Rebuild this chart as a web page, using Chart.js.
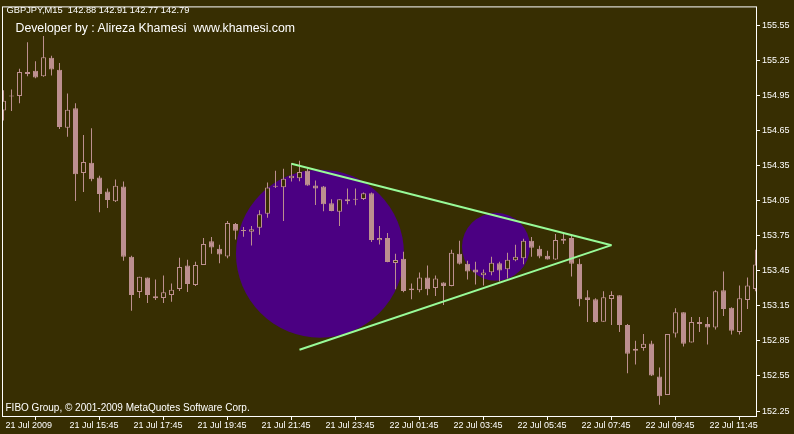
<!DOCTYPE html>
<html>
<head>
<meta charset="utf-8">
<script src="https://cdn.jsdelivr.net/npm/chart.js@4"></script>
<style>
  html, body { margin: 0; padding: 0; background: #372E02; overflow: hidden; }
  #wrap { position: relative; width: 794px; height: 434px; }
  canvas { position: absolute; left: 0; top: 0; }
  .txt { position: absolute; color: #ffffff; font-family: "Liberation Sans", Arial, sans-serif; white-space: pre; line-height: 1; }
</style>
</head>
<body>
<div id="wrap">
  <canvas id="c" width="794" height="434"></canvas>
  <div class="txt" style="left:6.5px; top:6.2px; font-size:9.3px;">GBPJPY,M15  142.88 142.91 142.77 142.79</div>
  <div class="txt" style="left:15.5px; top:22.3px; font-size:12.3px;">Developer by : Alireza Khamesi  www.khamesi.com</div>
  <div class="txt" style="left:5.5px; top:402.8px; font-size:10px;">FIBO Group, © 2001-2009 MetaQuotes Software Corp.</div>
</div>
<script>
// ---- data (15-minute candles, index 0 = 21 Jul 13:45) ----
const opens = [154.820,154.941,154.944,155.133,155.161,155.113,155.271,155.170,154.673,154.840,
  154.287,154.374,154.247,154.129,154.044,154.171,153.570,153.268,153.393,153.232,
  153.217,153.243,153.294,153.494,153.329,153.500,153.703,153.638,153.573,153.849,
  153.790,153.784,153.818,153.937,154.168,154.165,154.241,154.241,154.306,154.180,
  154.171,154.027,153.954,154.061,154.058,154.064,154.112,153.712,153.731,153.517,
  153.553,153.299,153.283,153.393,153.302,153.350,153.319,153.596,153.511,153.460,
  153.412,153.437,153.514,153.463,153.539,153.556,153.706,153.638,153.579,153.547,
  153.723,153.731,153.511,153.223,153.206,153.014,153.209,153.240,152.986,152.783,
  152.789,152.828,152.546,152.388,152.913,153.096,152.837,153.012,152.995,152.964,
  153.283,153.133,152.927,153.200,153.294];
const highs = [154.994,155.000,155.178,155.404,155.243,155.457,155.288,155.226,154.966,154.882,
  154.611,154.668,154.262,154.154,154.230,154.213,153.579,153.398,153.393,153.376,
  153.409,153.342,153.562,153.545,153.528,153.731,153.739,153.672,153.875,153.858,
  153.824,153.832,153.968,154.205,154.306,154.323,154.372,154.391,154.323,154.222,
  154.175,154.061,154.061,154.154,154.154,154.120,154.120,153.832,153.773,153.596,
  153.613,153.342,153.435,153.494,153.409,153.352,153.629,153.706,153.536,153.528,
  153.460,153.570,153.528,153.604,153.672,153.723,153.739,153.663,153.621,153.765,
  153.765,153.748,153.553,153.283,153.215,153.274,153.274,153.240,152.995,152.851,
  152.910,152.851,152.622,152.910,153.130,153.096,153.054,153.054,153.054,153.283,
  153.443,153.139,153.325,153.393,153.629];
const lows = [154.735,154.817,154.882,155.113,155.096,155.110,155.121,154.662,154.597,154.047,
  154.123,154.216,153.951,153.987,154.038,153.536,153.107,153.217,153.175,153.200,
  153.175,153.184,153.277,153.268,153.319,153.500,153.596,153.514,153.556,153.717,
  153.742,153.666,153.759,153.903,154.157,153.875,154.213,154.216,154.178,154.013,
  153.959,153.959,153.832,154.019,154.010,154.055,153.697,153.674,153.522,153.291,
  153.266,153.206,153.266,153.240,153.234,153.158,153.317,153.503,153.376,153.333,
  153.325,153.412,153.359,153.384,153.532,153.505,153.570,153.556,153.547,153.545,
  153.680,153.401,153.147,153.012,153.006,153.014,152.986,152.927,152.574,152.648,
  152.766,152.549,152.303,152.388,152.879,152.803,152.837,152.927,152.820,152.947,
  153.063,152.904,152.904,153.122,153.274];
const closes = [154.905,154.941,155.150,155.150,155.102,155.277,155.172,154.679,154.828,154.275,
  154.380,154.233,154.106,154.055,154.177,153.570,153.243,153.398,153.243,153.215,
  153.266,153.288,153.483,153.336,153.500,153.680,153.649,153.590,153.858,153.793,
  153.790,153.805,153.934,154.163,154.168,154.236,154.262,154.295,154.180,154.154,
  154.019,153.961,154.061,154.044,154.058,154.112,153.714,153.731,153.524,153.542,
  153.277,153.283,153.393,153.291,153.384,153.319,153.604,153.511,153.443,153.435,
  153.435,153.519,153.452,153.545,153.570,153.706,153.646,153.573,153.547,153.714,
  153.706,153.511,153.206,153.200,153.012,153.223,153.243,152.986,152.741,152.766,
  152.826,152.555,152.377,152.910,153.096,152.826,153.012,152.995,152.964,153.274,
  153.122,152.936,153.215,153.325,153.503];

// tick labels
const xTickIndex = [0, 8, 16, 24, 32, 40, 48, 56, 64, 72, 80, 88];
const xTickLabels = ["21 Jul 2009","21 Jul 15:45","21 Jul 17:45","21 Jul 19:45","21 Jul 21:45","21 Jul 23:45",
  "22 Jul 01:45","22 Jul 03:45","22 Jul 05:45","22 Jul 07:45","22 Jul 09:45","22 Jul 11:45"];
const yTickValues = [152.25,152.55,152.85,153.15,153.45,153.75,154.05,154.35,154.65,154.95,155.25,155.55];

// drawn objects (bar index, price)
const triangleUpperX = [36, 76];
const triangleUpperY = [154.366, 153.669];
const triangleLowerX = [37, 76];
const triangleLowerY = [152.775, 153.669];
const circleBigCenter = [39.56, 153.596];
const circleSmallCenter = [61.56, 153.655];

// ---- styles ----
const BG = '#372E02';
const CANDLE = '#BC8F8F';
const CIRCLE = '#4B0082';
const TLINE = '#98FB98';

const wickData = opens.map((o, i) => ({ x: i, y: [lows[i], highs[i]] }));
const bodyData = opens.map((o, i) => ({ x: i, y: [o, closes[i]] }));

const frame = {
  id: 'frame',
  beforeDraw(chart) {
    const c = chart.ctx;
    c.save();
    c.fillStyle = BG;
    c.fillRect(0, 0, chart.width, chart.height);
    c.restore();
  },
  afterDraw(chart) {
    const a = chart.chartArea, c = chart.ctx;
    c.save();
    c.strokeStyle = '#ffffff';
    c.lineWidth = 1;
    c.strokeRect(a.left - 0.5, a.top - 0.5, a.right - a.left + 1, a.bottom - a.top + 1);
    c.restore();
  }
};

const FONT = { family: 'Liberation Sans', size: 9 };

new Chart(document.getElementById('c'), {
  type: 'bar',
  data: {
    datasets: [
      { type: 'line', order: 0, data: triangleUpperX.map((x, i) => ({ x, y: triangleUpperY[i] })),
        borderColor: TLINE, borderWidth: 2, pointRadius: 0, fill: false, tension: 0 },
      { type: 'line', order: 0, data: triangleLowerX.map((x, i) => ({ x, y: triangleLowerY[i] })),
        borderColor: TLINE, borderWidth: 2, pointRadius: 0, fill: false, tension: 0 },
      { type: 'bar', order: 1, data: bodyData, grouped: false,
        categoryPercentage: 1, barPercentage: 1, maxBarThickness: 5, minBarLength: 1,
        borderSkipped: false, inflateAmount: 0, borderWidth: 1, borderColor: CANDLE,
        backgroundColor: (ctx) => {
          const r = ctx.raw; if (!r) return CANDLE;
          return r.y[1] > r.y[0] ? BG : CANDLE;
        } },
      { type: 'bar', order: 2, data: wickData, grouped: false,
        categoryPercentage: 1, barPercentage: 1, maxBarThickness: 1, minBarLength: 1,
        borderSkipped: false, inflateAmount: 0, borderWidth: 0, backgroundColor: CANDLE },
      { type: 'bubble', order: 3, data: [{ x: circleBigCenter[0], y: circleBigCenter[1] }],
        radius: 84, hoverRadius: 0, backgroundColor: CIRCLE, borderWidth: 0 },
      { type: 'bubble', order: 3, data: [{ x: circleSmallCenter[0], y: circleSmallCenter[1] }],
        radius: 34, hoverRadius: 0, backgroundColor: CIRCLE, borderWidth: 0 }
    ]
  },
  options: {
    responsive: false,
    animation: false,
    devicePixelRatio: 1,
    events: [],
    layout: { autoPadding: false, padding: { left: 3, top: 3, right: 0, bottom: 0 } },
    plugins: { legend: { display: false }, tooltip: { enabled: false } },
    scales: {
      x: {
        type: 'linear', offset: false, min: -0.0625, max: 94.0625,
        afterBuildTicks: (s) => { s.ticks = xTickIndex.map(v => ({ value: v })); },
        afterFit: (s) => { s.height = 18; },
        grid: { display: true, drawOnChartArea: false, drawTicks: true, tickLength: 4, color: '#ffffff' },
        border: { display: false },
        ticks: { color: '#ffffff', font: FONT, autoSkip: false, maxRotation: 0, minRotation: 0,
          align: 'start', padding: 0, labelOffset: 2,
          callback: (v, i) => xTickLabels[i] }
      },
      y: {
        type: 'linear', position: 'right', min: 152.2078, max: 155.7026,
        afterBuildTicks: (s) => { s.ticks = yTickValues.map(v => ({ value: v })); },
        afterFit: (s) => { s.width = 38; },
        grid: { display: true, drawOnChartArea: false, drawTicks: true, tickLength: 4, color: '#ffffff' },
        border: { display: false },
        ticks: { color: '#ffffff', font: FONT, padding: 2, callback: (v) => Number(v).toFixed(2) }
      }
    }
  },
  plugins: [frame]
});
</script>
</body>
</html>
